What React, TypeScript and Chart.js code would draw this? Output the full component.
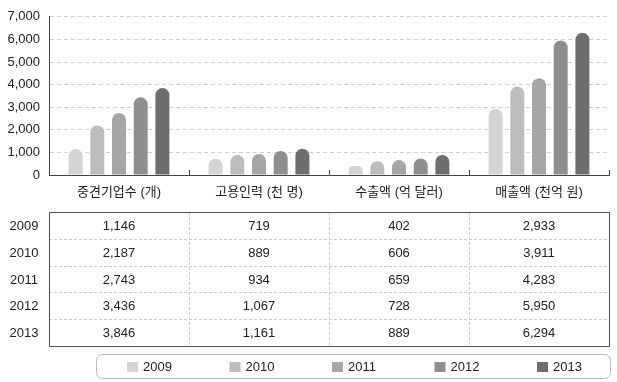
import React, { useEffect, useRef } from "react";
import { Chart, registerables } from "chart.js";

Chart.register(...registerables);

const categories = ["중견기업수 (개)", "고용인력 (천 명)", "수출액 (억 달러)", "매출액 (천억 원)"];
const years = ["2009", "2010", "2011", "2012", "2013"];
const v2009 = [1146, 719, 402, 2933];
const v2010 = [2187, 889, 606, 3911];
const v2011 = [2743, 934, 659, 4283];
const v2012 = [3436, 1067, 728, 5950];
const v2013 = [3846, 1161, 889, 6294];
const seriesValues = [v2009, v2010, v2011, v2012, v2013];
const yMax = 7000;
const yStep = 1000;
const colors = ["#d4d4d4", "#bdbdbd", "#a6a6a6", "#8f8f8f", "#6e6e6e"];

const FONT = "'Liberation Sans', 'Noto Sans CJK KR', sans-serif";
const fmt = (n: number) => n.toLocaleString("en-US");

const extrasPlugin = {
  id: "extras",
  afterDraw(chart: any) {
    const { ctx, chartArea } = chart;
    const x = chart.scales.x;
    const n = categories.length;
    const colW = (chartArea.right - chartArea.left) / n;
    ctx.save();
    // category boundary ticks
    ctx.strokeStyle = "#444";
    ctx.lineWidth = 1;
    for (let i = 1; i <= n; i++) {
      const bx = Math.round(chartArea.left + i * colW) + 0.5;
      ctx.beginPath();
      ctx.moveTo(bx, chartArea.bottom);
      ctx.lineTo(bx, chartArea.bottom - 5);
      ctx.stroke();
    }
    // table
    const top = 212;
    const rowH = 26.8;
    const rows = years.length;
    const left = chartArea.left;
    const right = chartArea.right;
    ctx.setLineDash([3, 2]);
    ctx.strokeStyle = "#cccccc";
    for (let r = 1; r < rows; r++) {
      const yy = Math.round(top + r * rowH) + 0.5;
      ctx.beginPath();
      ctx.moveTo(left, yy);
      ctx.lineTo(right, yy);
      ctx.stroke();
    }
    for (let c = 1; c < n; c++) {
      const xx = Math.round(left + c * colW) + 0.5;
      ctx.beginPath();
      ctx.moveTo(xx, top);
      ctx.lineTo(xx, top + rows * rowH);
      ctx.stroke();
    }
    ctx.setLineDash([]);
    ctx.strokeStyle = "#555";
    ctx.strokeRect(Math.round(left) + 0.5, top + 0.5, Math.round(right - left), Math.round(rows * rowH));
    ctx.fillStyle = "#222";
    ctx.font = `13px ${FONT}`;
    ctx.textAlign = "center";
    ctx.textBaseline = "middle";
    for (let r = 0; r < rows; r++) {
      const cy = top + (r + 0.5) * rowH + 1;
      ctx.fillText(years[r], 24, cy);
      for (let c = 0; c < n; c++) {
        const cx = x.getPixelForValue(c);
        ctx.fillText(fmt(seriesValues[r][c]), cx, cy);
      }
    }
    // legend
    const lx = 96, ly = 354, lw = 514, lh = 24;
    ctx.strokeStyle = "#bbbbbb";
    ctx.beginPath();
    ctx.roundRect(lx + 0.5, ly + 0.5, lw, lh, 6);
    ctx.stroke();
    ctx.textAlign = "left";
    chart.data.datasets.forEach((ds: any, i: number) => {
      const sx = 127 + i * 102.5;
      ctx.fillStyle = ds.backgroundColor;
      ctx.fillRect(sx, 362, 11, 10);
      ctx.fillStyle = "#222";
      ctx.fillText(ds.label, sx + 16, 367.5);
    });
    ctx.restore();
  },
};

export default function App() {
  const ref = useRef<HTMLCanvasElement>(null);
  useEffect(() => {
    if (!ref.current) return;
    const chart = new Chart(ref.current, {
      type: "bar",
      data: {
        labels: categories,
        datasets: years.map((y, i) => ({
          label: y,
          data: seriesValues[i],
          backgroundColor: colors[i],
          borderRadius: { topLeft: 7, topRight: 7, bottomLeft: 0, bottomRight: 0 },
          borderSkipped: false,
          categoryPercentage: 0.775,
          barPercentage: 0.645,
        })),
      },
      options: {
        responsive: false,
        animation: false,
        layout: { padding: { top: 14, left: 0, right: 8, bottom: 0 } },
        plugins: { legend: { display: false }, tooltip: { enabled: false } },
        scales: {
          x: {
            grid: { display: false },
            border: { display: true, color: "#444", width: 1 },
            ticks: { color: "#222", font: { family: FONT, size: 13 }, padding: 2 },
            afterFit: (s: any) => {
              s.height = 207;
            },
          },
          y: {
            min: 0,
            max: yMax,
            ticks: {
              stepSize: yStep,
              color: "#222",
              font: { family: FONT, size: 13 },
              padding: 9,
              callback: (v: any) => fmt(Number(v)),
            },
            grid: {
              drawTicks: false,
              color: (c: any) => (c.tick && c.tick.value === 0 ? "rgba(0,0,0,0)" : "#d0d0d0"),
            },
            border: { display: true, color: "#444", width: 1, dash: [4, 3] },
            afterFit: (s: any) => {
              s.width = 49;
            },
          },
        },
      },
      plugins: [extrasPlugin],
    });
    return () => chart.destroy();
  }, []);
  return (
    <div style={{ position: "fixed", left: 0, top: 0, width: 617, height: 382, background: "#fff" }}>
      <canvas ref={ref} width={617} height={382} style={{ width: 617, height: 382 }} />
    </div>
  );
}
